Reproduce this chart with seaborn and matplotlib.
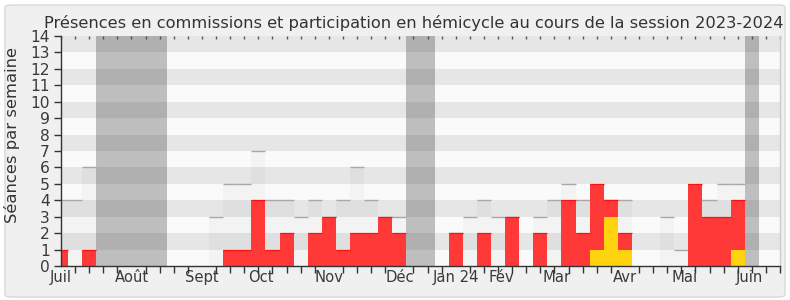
import numpy as np
import pandas as pd
import matplotlib
matplotlib.use("Agg")
import matplotlib.pyplot as plt
import seaborn as sns
from matplotlib.patches import FancyBboxPatch

# ---- data (one entry per week, week 0 = first week of July 2023) ----
weeks = list(range(52))
commission = [1, 0, 1, 0, 0, 0, 0, 0, 0, 0, 0, 0, 1, 1, 4, 1, 2, 0, 2, 3,
              1, 2, 2, 3, 2, 0, 0, 0, 2, 0, 2, 0, 3, 0, 2, 0, 4, 2, 5, 4,
              2, 0, 0, 0, 0, 5, 3, 3, 4, 0, 0, 0]
hemicycle = [0, 0, 0, 0, 0, 0, 0, 0, 0, 0, 0, 0, 0, 0, 0, 0, 0, 0, 0, 0,
             0, 0, 0, 0, 0, 0, 0, 0, 0, 0, 0, 0, 0, 0, 0, 0, 0, 0, 1, 3,
             1, 0, 0, 0, 0, 0, 0, 0, 1, 0, 0, 0]
mediane = [4, 4, 6, 0, 0, 0, 0, 0, 0, 0, 0, 3, 5, 5, 7, 4, 4, 3, 4, 3,
           4, 6, 4, 3, 3, 0, 0, 0, 2, 3, 4, 3, 3, 0, 3, 4, 5, 4, 4, 4,
           4, 0, 0, 3, 1, 4, 4, 5, 5, 0, 0, 0]
vacances = [3, 4, 5, 6, 7, 25, 26, 49]
mois_labels = ["Juil", "Août", "Sept", "Oct", "Nov", "Déc", "Jan 24",
               "Fév", "Mar", "Avr", "Mai", "Juin"]
mois_pos = [0, 5, 10, 14.15, 19, 24, 28, 31.25, 35.15, 40, 44.2, 48.85]
y_ticks = list(range(15))

df = pd.DataFrame({"semaine": weeks, "commission": commission,
                   "hemicycle": hemicycle, "mediane": mediane})

sns.set_theme(style="white")
plt.rcParams["font.family"] = ["DejaVu Sans"]

W, H = 790, 300
fig = plt.figure(figsize=(W / 100, H / 100), dpi=100)
fig.patch.set_facecolor("white")
frame = FancyBboxPatch((5 / W, 3 / H), 780 / W, 292 / H,
                       boxstyle="round,pad=0,rounding_size=0.008",
                       transform=fig.transFigure, fc="#f0f0f0",
                       ec="#d9d9d9", lw=1, zorder=-10)
fig.patches.append(frame)

ax = fig.add_axes([61 / W, 1 - 266 / H, (780 - 61) / W, (266 - 36) / H])
ax.set_facecolor("#fafafa")

# horizontal alternating bands
for k in range(1, 14, 2):
    ax.axhspan(k, k + 1, color="#e6e6e6", zorder=0, lw=0)

# median shading (under bars)
sns.barplot(data=df, x="semaine", y="mediane", native_scale=True, width=1,
            color="black", alpha=0.028, saturation=1, linewidth=0,
            errorbar=None, ax=ax, zorder=1)

# vacation bands
for v in vacances:
    ax.axvspan(v - 0.5, v + 0.5, color="#464646", alpha=0.333, lw=0, zorder=1.5)

# median lines
mw = [w for w, m in zip(weeks, mediane) if m > 0]
mv = [m for m in mediane if m > 0]
ax.hlines(mv, [w - 0.5 for w in mw], [w + 0.5 for w in mw],
          color="#a8a8a8", lw=1.0, zorder=1.8)

# commission presence (red)
sns.barplot(data=df, x="semaine", y="commission", native_scale=True, width=1,
            color="#FF3838", saturation=1, linewidth=0, errorbar=None,
            ax=ax, zorder=2)
cw = [w for w, c in zip(weeks, commission) if c > 0]
cv = [c for c in commission if c > 0]
ax.hlines(cv, [w - 0.5 for w in cw], [w + 0.5 for w in cw],
          color="#FF1010", lw=0.9, zorder=2.1)

# hemicycle participation (yellow)
sns.barplot(data=df, x="semaine", y="hemicycle", native_scale=True, width=1,
            color="#FFD30F", saturation=1, linewidth=0, errorbar=None,
            ax=ax, zorder=3)

ax.set_xlim(0, 51)
ax.set_ylim(0, 14)
ax.set_xlabel("")
ax.set_ylabel("")

ax.set_xticks(mois_pos)
ax.set_xticklabels(mois_labels)
ax.set_xticks(weeks, minor=True)
ax.tick_params(axis="x", which="major", length=0, pad=3, labelsize=10.6,
               labelcolor="#3a3a3a")
ax.tick_params(axis="x", which="minor", length=5, width=1, color="#333333",
               direction="out", bottom=True)
ax.set_yticks(y_ticks)
ax.tick_params(axis="y", which="major", length=5, width=1, color="#333333",
               direction="out", left=True, labelsize=11.2, pad=3,
               labelcolor="#3a3a3a")

top = ax.secondary_xaxis("top")
top.set_xticks(weeks)
top.tick_params(length=2, width=1, direction="in", color="#555555",
                labeltop=False)
top.spines["top"].set_visible(False)

for s in ["left", "bottom"]:
    ax.spines[s].set_color("#333333")
    ax.spines[s].set_linewidth(1)
ax.spines["top"].set_visible(False)
ax.spines["right"].set_color("#cccccc")
ax.spines["right"].set_linewidth(1)
for s in ax.spines.values():
    s.set_zorder(5)

fig.text(414 / W, 1 - 28 / H,
         "Présences en commissions et participation en hémicycle au cours de la session 2023-2024",
         ha="center", va="baseline", fontsize=11.7, color="#333333")
fig.text(12.5 / W, 1 - 135 / H, "Séances par semaine", rotation=90,
         ha="center", va="center", fontsize=11.8, color="#333333")

fig.savefig("out.png", dpi=100, facecolor=fig.get_facecolor())
